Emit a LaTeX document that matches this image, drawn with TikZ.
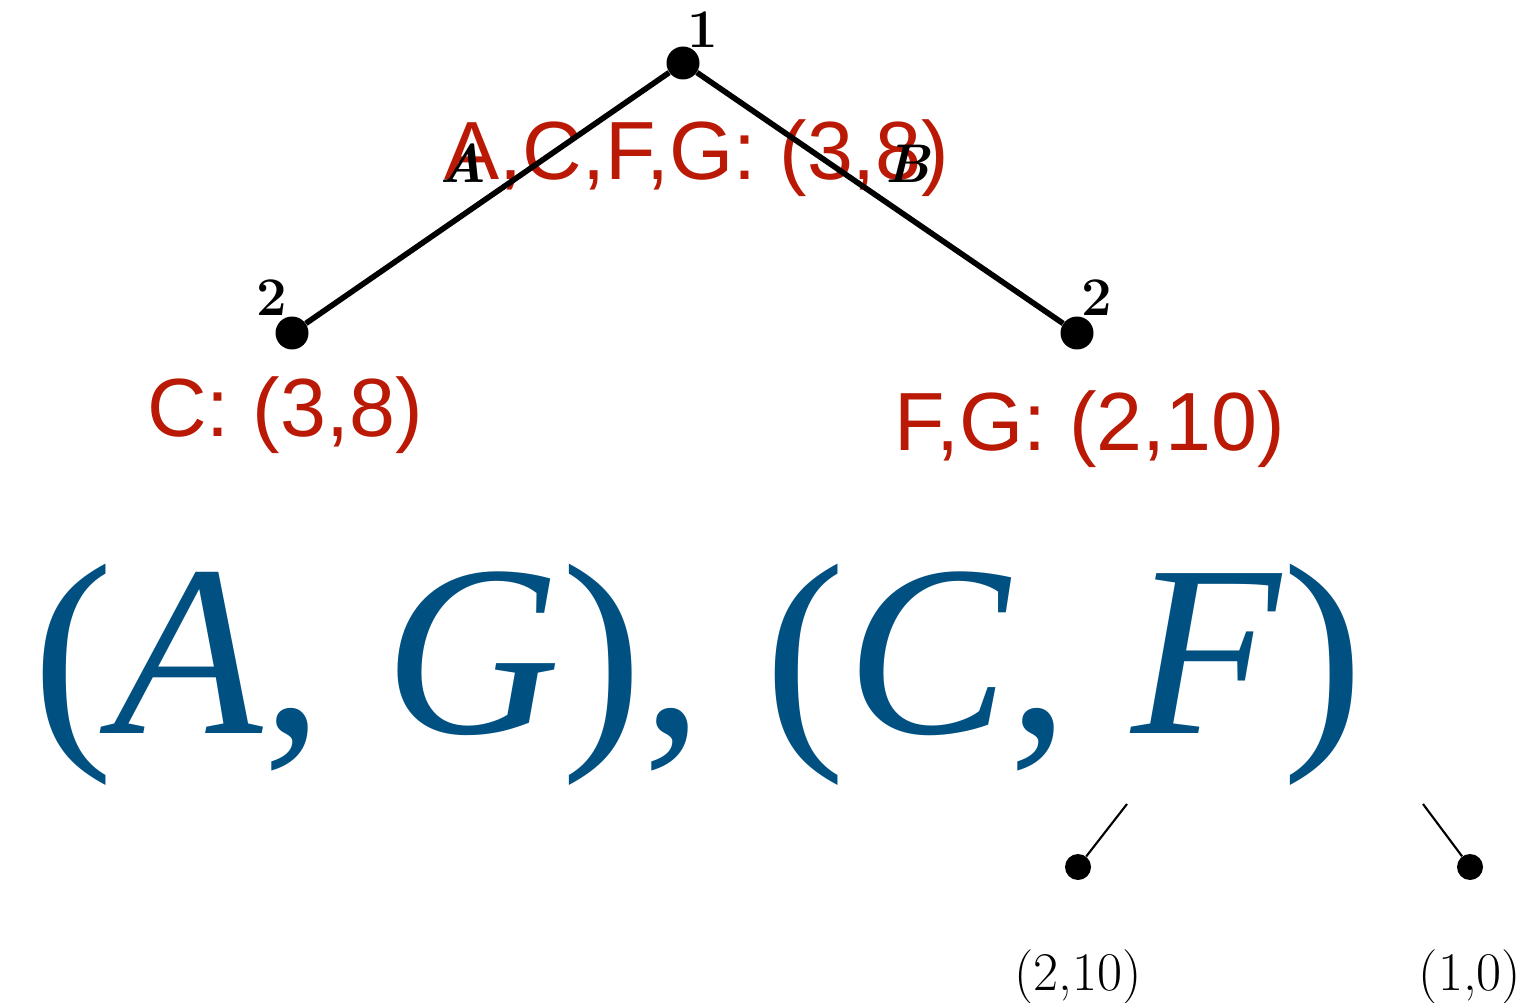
\documentclass[tikz,border=0pt]{standalone}
\usepackage{fontspec}
\newfontfamily\redfont{Liberation Sans}
\newfontfamily\eqfont{Liberation Serif}
\definecolor{payred}{RGB}{185,25,5}
\definecolor{eqblue}{RGB}{0,80,130}
\begin{document}
\begin{tikzpicture}[x=0.02cm,y=-0.02cm,
  bigdot/.style={circle,fill=black,inner sep=0pt,minimum size=0.66cm},
  smalldot/.style={circle,fill=black,inner sep=0pt,minimum size=0.52cm},
  playerlab/.style={font=\fontsize{31}{33}\selectfont\bfseries,inner sep=0pt,anchor=base},
  edgelab/.style={font=\fontsize{31}{33}\selectfont\bfseries\itshape,inner sep=0pt,anchor=base},
  redlab/.style={font=\redfont\fontsize{47}{52}\selectfont,text=payred,inner sep=0pt,anchor=base},
  paylab/.style={font=\fontsize{31}{33}\selectfont,inner sep=0pt,anchor=base},
  treeedge/.style={line width=3.2pt},
  leafedge/.style={line width=1.2pt}]
\useasboundingbox (0,0) rectangle (1527,1003);
% red annotations
\node[redlab] (rt) at (697,180) {A,C,F,G: (3,8)};
\node[redlab] (rl) at (285,436) {C: (3,8)};
\node[redlab] (rr) at (1090,450) {F,G: (2,10)};
% tree
\node[bigdot] (root) at (683,63) {};
\node[bigdot] (left) at (292,333) {};
\node[bigdot] (right) at (1077,333) {};
\draw[treeedge] (root) -- (left);
\draw[treeedge] (root) -- (right);
\node[playerlab] (p1) at (703,48) {1};
\node[playerlab] (p2l) at (272,316) {2};
\node[playerlab] (p2r) at (1097,316) {2};
\node[edgelab] (ea) at (463,183) {A};
\node[edgelab] (eb) at (908,183) {B};
% big equilibrium
\node[text=eqblue,inner sep=0pt,anchor=base,font=\eqfont\fontsize{139}{145}\selectfont] (eq) at (698,733) {(\textit{A}, \textit{G}), (\textit{C}, \textit{F})};
% lower fragments
\coordinate (c1) at (1127,804);
\coordinate (c2) at (1423,804);
\node[smalldot] (l1) at (1078,867) {};
\node[smalldot] (l2) at (1470,867) {};
\draw[leafedge] (c1) -- (l1);
\draw[leafedge] (c2) -- (l2);
\node[paylab] (pay1) at (1078,990) {(2,10)};
\node[paylab] (pay2) at (1470,990) {(1,0)};
\end{tikzpicture}
\end{document}
